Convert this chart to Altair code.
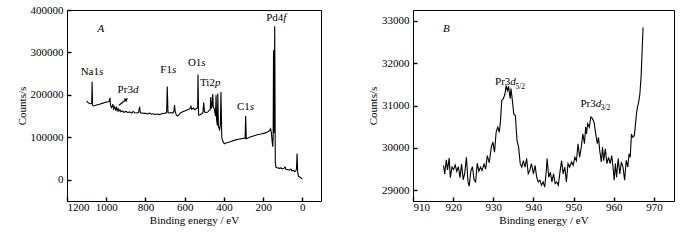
import altair as alt
import pandas as pd

FONT = "Liberation Serif"

# ---------------- Panel A: survey spectrum ----------------
a_energy = [1100, 1095, 1090, 1080, 1074, 1072, 1070, 1066, 1060, 1050, 1040, 1030, 1020, 1010,
            1000, 990, 984, 981, 978, 972, 966, 962, 957, 952, 948, 944, 940, 935, 930, 925,
            918, 910, 900, 890, 880, 870, 862, 855, 845, 835, 830, 826, 815, 800, 790, 780,
            770, 760, 750, 740, 730, 720, 710, 700, 692, 689, 685, 678, 670, 660, 655, 652,
            648, 642, 636, 628, 620, 610, 600, 590, 580, 572, 568, 564, 556, 548, 540, 534,
            532, 529, 522, 515, 507, 503, 499, 490, 482, 476, 470, 467, 464, 460, 457, 454,
            448, 443, 440, 437, 433, 431, 428, 422, 418, 415, 411, 405, 398, 390, 380, 360,
            340, 320, 300, 292, 289, 286, 280, 270, 250, 230, 210, 190, 175, 167, 162, 158,
            154, 151, 149, 147, 145, 143, 141, 138, 135, 128, 118, 110, 100, 92, 88, 84, 75,
            66, 58, 54, 46, 40, 34, 30, 27, 24, 20, 15, 10, 5, 0]
a_counts = [186000, 183000, 181000, 179500, 179000, 231000, 177000, 174000, 174500, 176000,
            177500, 178500, 180000, 181500, 183000, 184000, 186000, 193000, 175000, 170000,
            178000, 167000, 172000, 165000, 170000, 163000, 168000, 162000, 165000, 160500,
            162000, 159000, 161000, 158500, 160000, 157000, 161000, 158000, 157500, 159000,
            172000, 158000, 157000, 156500, 155000, 157000, 154500, 155500, 154000, 155000,
            153500, 155000, 156000, 157000, 158000, 220000, 159000, 157000, 158500, 157000,
            162000, 176000, 160000, 152000, 150000, 154000, 158000, 160000, 162000, 164000,
            166000, 168000, 173000, 166000, 169000, 165000, 168000, 170000, 248000, 152000,
            153000, 155000, 158000, 182000, 160000, 158000, 160000, 163000, 165000, 195000,
            168000, 175000, 202000, 172000, 165000, 150000, 200000, 140000, 128000, 203000,
            125000, 118000, 130000, 207000, 100000, 90000, 85000, 86500, 88000, 91000,
            94000, 96000, 97500, 98000, 150000, 97000, 98000, 100000, 103000, 106000,
            108000, 110500, 113000, 116000, 120000, 112000, 90000, 78000, 100000, 305000,
            110000, 130000, 362000, 40000, 30000, 28500, 27000, 28000, 25500, 28000, 30000,
            25000, 24000, 22500, 25000, 21500, 22000, 19500, 21000, 25000, 62000, 18000,
            8000, 7000, 5500, 3500, 1500]

# peak labels of panel A: (energy, counts, upright part, italic part)
a_lab_energy = [1037, 864, 665, 515, 446, 268, 97, 1045]
a_lab_counts = [253000, 211000, 257600, 274000, 227000, 171000, 381700, 356000]
a_lab_plain = ["Na1", "Pr3", "F1", "O1", "Ti2", "C1", "Pd4", ""]
a_lab_italic = ["s", "d", "s", "s", "p", "s", "f", "A"]

# Pr3d arrow (tail -> head)
arrow_energy = [935, 899.5]
arrow_counts = [175600, 188500]

# ---------------- Panel B: Pr3d region ----------------
b_energy = [917.6, 917.9, 918.3, 918.6, 919.0, 919.3, 919.7, 920.1, 920.5, 920.9, 921.3, 921.7,
            922.1, 922.5, 922.9, 923.3, 923.7, 924.0, 924.4, 924.8, 925.2, 925.6, 926.0, 926.4,
            926.8, 927.2, 927.7, 928.1, 928.5, 929.0, 929.5, 929.9, 930.3, 930.7, 931.1, 931.5,
            931.8, 932.1, 932.5, 932.9, 933.2, 933.5, 933.8, 934.2, 934.4, 934.7, 935.1, 935.5,
            935.9, 936.3, 936.7, 937.1, 937.5, 937.9, 938.3, 938.7, 939.1, 939.5, 940.0, 940.4,
            940.8, 941.2, 941.6, 942.0, 942.4, 942.8, 943.2, 943.4, 943.8, 944.2, 944.6, 945.0,
            945.4, 945.8, 946.2, 946.6, 947.0, 947.4, 947.8, 948.2, 948.6, 949.0, 949.5, 949.9,
            950.3, 950.7, 951.1, 951.5, 951.9, 952.3, 952.7, 953.0, 953.2, 953.5, 953.9, 954.3,
            954.7, 955.1, 955.5, 955.9, 956.2, 956.5, 956.9, 957.2, 957.5, 957.9, 958.3, 958.7,
            959.1, 959.5, 959.8, 960.1, 960.4, 960.7, 961.1, 961.5, 961.9, 962.3, 962.7, 963.1,
            963.5, 963.8, 964.1, 964.4, 964.7, 965.1, 965.3, 965.6, 965.9, 966.2, 966.5, 966.8,
            967.1, 967.3]
b_counts = [29590, 29390, 29720, 29480, 29760, 29300, 29550, 29490, 29600, 29450, 29560, 29300,
            29620, 29250, 29420, 29780, 29200, 29100, 29450, 29560, 29250, 29200, 29640, 29450,
            29550, 29470, 29620, 29500, 29820, 29650, 30020, 30140, 29900, 30370, 30490, 30370,
            30650, 31120, 31160, 31270, 31470, 31350, 31450, 31160, 31400, 31160, 30800, 30760,
            30180, 30020, 29630, 29550, 29700, 29550, 29750, 29390, 29470, 29630, 29390, 29590,
            29310, 29200, 29240, 29120, 29200, 29080, 29470, 29750, 29310, 29430, 29200, 29390,
            29160, 29200, 29120, 29430, 29700, 29390, 29550, 29200, 29630, 29550, 29670, 29590,
            29780, 29700, 30100, 29780, 30020, 30330, 30100, 30490, 30330, 30570, 30490, 30730,
            30690, 30610, 30330, 30100, 30250, 29940, 29670, 30020, 29700, 29980, 29630, 29780,
            29630, 29820, 29550, 29240, 29630, 29310, 29750, 29390, 29670, 29550, 29240, 29710,
            29550, 29860, 29780, 30330, 30250, 30290, 30450, 30760, 30960, 31080, 31270, 31670,
            32370, 32840]

b_lab_energy = [934.25, 955.5, 917.5]
b_lab_counts = [31565, 31047, 32812]
b_lab_plain = ["Pr3", "Pr3", ""]
b_lab_italic = ["d", "d", "B"]
b_sub_energy = [935.5, 956.75]
b_sub_counts = [31440, 30930]
b_sub_text = ["5/2", "3/2"]

XTITLE = "Binding energy / eV"
YTITLE = "Counts/s"


def panel(df, lab, sub, arrow, xdom, xrev, xticks, xstep, ydom, yticks, ystep, w, h):
    xs = alt.Scale(domain=xdom, reverse=xrev, nice=False, zero=False)
    ys = alt.Scale(domain=ydom, nice=False, zero=False)
    common = dict(grid=False, domain=False, ticks=True, tickSize=4, offset=-4,
                  tickColor="black", tickWidth=1.4, zindex=1,
                  labelFont=FONT, titleFont=FONT, labelFontSize=11, titleFontSize=11,
                  titleFontWeight="normal", labelColor="black", titleColor="black",
                  format="d")
    xaxis = alt.Axis(values=xticks, title=XTITLE, orient="bottom", labelPadding=0,
                     titlePadding=2,
                     labelExpr=f"datum.value % {xstep} == 0 ? datum.label : ''", **common)
    yaxis = alt.Axis(values=yticks, title=YTITLE, orient="left", labelPadding=4,
                     titlePadding=3,
                     labelExpr=f"datum.value % {ystep} == 0 ? datum.label : ''", **common)
    line = alt.Chart(df).mark_line(color="black", strokeWidth=1.1).encode(
        x=alt.X("E:Q", scale=xs, axis=xaxis),
        y=alt.Y("C:Q", scale=ys, axis=yaxis),
    )
    txt_enc = dict(x=alt.X("E:Q"), y=alt.Y("C:Q"))
    plain = alt.Chart(lab).mark_text(font=FONT, fontSize=11, align="right", baseline="middle",
                                     color="black").encode(text="P:N", **txt_enc)
    ital = alt.Chart(lab).mark_text(font=FONT, fontSize=11, align="left", baseline="middle",
                                    fontStyle="italic", color="black").encode(text="I:N", **txt_enc)
    layers = [line, plain, ital]
    if sub is not None:
        layers.append(alt.Chart(sub).mark_text(font=FONT, fontSize=7.5, align="left",
                                               baseline="middle", color="black")
                      .encode(text="S:N", **txt_enc))
    if arrow is not None:
        layers.append(alt.Chart(arrow).mark_line(color="black", strokeWidth=1.2).encode(**txt_enc))
        layers.append(alt.Chart(arrow.tail(1)).mark_point(shape="triangle", filled=True, size=18,
                                                          angle=52, color="black", opacity=1)
                      .encode(**txt_enc))
    return alt.layer(*layers).properties(width=w, height=h)


dfA = pd.DataFrame({"E": a_energy, "C": a_counts})
labA = pd.DataFrame({"E": a_lab_energy, "C": a_lab_counts, "P": a_lab_plain, "I": a_lab_italic})
arrA = pd.DataFrame({"E": arrow_energy, "C": arrow_counts})
dfB = pd.DataFrame({"E": b_energy, "C": b_counts})
labB = pd.DataFrame({"E": b_lab_energy, "C": b_lab_counts, "P": b_lab_plain, "I": b_lab_italic})
subB = pd.DataFrame({"E": b_sub_energy, "C": b_sub_counts, "S": b_sub_text})

pA = panel(dfA, labA, None, arrA, [-95, 1200], True,
           list(range(0, 1201, 100)), 200,
           [-50000, 400000], list(range(0, 400001, 50000)), 100000, 254, 191)
pB = panel(dfB, labB, subB, None, [910, 975], False,
           list(range(910, 971, 5)), 10,
           [28750, 33250], list(range(29000, 33001, 500)), 1000, 261, 191)

chart = alt.hconcat(pA, pB, spacing=45).properties(
    padding={"left": 15, "top": 3, "right": 5, "bottom": 5},
    background="white",
).configure_view(stroke="black", strokeWidth=1)

chart.save("out.html", embed_options={"renderer": "svg", "actions": False})
